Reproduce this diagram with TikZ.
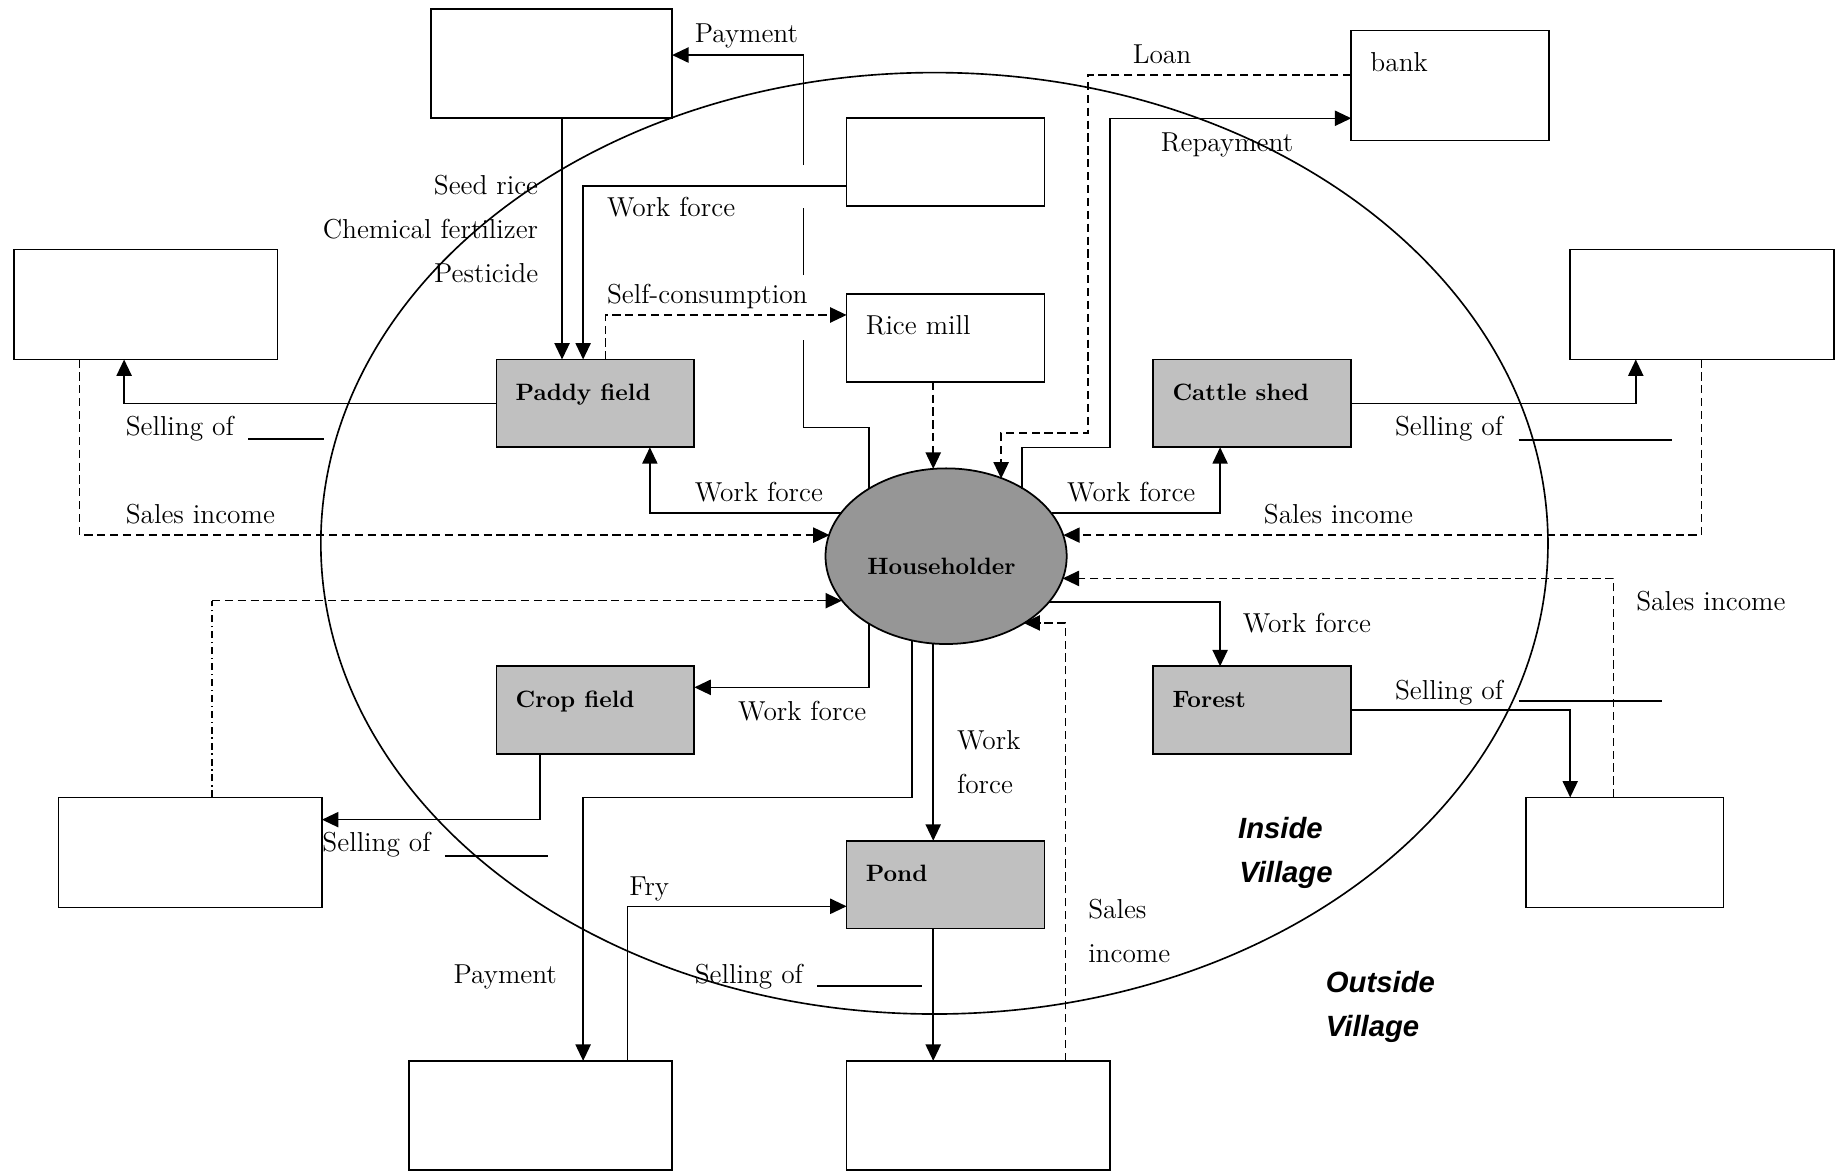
\documentclass[tikz,border=0pt]{standalone}
\usepackage{fontspec}
\newfontfamily\regionfont{Liberation Sans}
\usetikzlibrary{arrows.meta,shapes.geometric}
\definecolor{unitgray}{HTML}{C0C0C0}
\definecolor{hhgray}{HTML}{969696}

\begin{document}
\begin{tikzpicture}[x=0.5pt,y=-0.5pt,
  every node/.style={font=\fontsize{11.7}{13}\selectfont},
  box/.style={draw, line width=0.75pt, fill=white, inner sep=0pt, outer sep=0pt, anchor=north west},
  unitbox/.style={box, fill=unitgray},
  small/.style={minimum width=84.5pt, minimum height=37.5pt},
  wide/.style={minimum width=112.5pt, minimum height=47pt},
  title/.style={label={[anchor=base west, inner sep=0pt, xshift=8pt, yshift=-17.5pt]north west:#1}},
  btitle/.style={label={[anchor=base west, inner sep=0pt, xshift=8pt, yshift=-17.5pt,
      font=\fontsize{10.1}{12}\selectfont\bfseries]north west:#1}},
  flow/.style={line width=0.65pt},
  arr/.style={flow, -{Triangle[length=7pt,width=6.5pt]}},
  dline/.style={dash pattern=on 3.5pt off 2pt},
  dashdotline/.style={dash pattern=on 3pt off 1.6pt on 0.6pt off 1.6pt},
  txt/.style={anchor=base west, inner sep=0pt},
  txtr/.style={anchor=base east, inner sep=0pt},
  region/.style={anchor=base west, inner sep=0pt, font=\fontsize{12.5}{14}\selectfont\regionfont\bfseries\itshape},
  blank/.style={line width=0.8pt}
]
\useasboundingbox (0,0) rectangle (1568,1001);

% village boundary
\node[draw, ellipse, line width=0.7pt, inner sep=0pt, minimum width=524pt, minimum height=402pt] (village) at (798,464) {};

% outside partners and inside units
\node[box, minimum width=103pt, minimum height=46.5pt] (seedshop) at (368,8) {};
\node[box, small] (labour) at (723,101) {};
\node[box, small, title={Rice mill}] (mill) at (723,251) {};
\node[box, small, minimum height=47pt, title={bank}] (bank) at (1154,26) {};
\node[box, wide] (mktL) at (12,213) {};
\node[box, wide] (mktR) at (1341,213) {};
\node[box, wide] (mktCrop) at (50,681) {};
\node[box, small, minimum height=47pt] (mktForest) at (1303,681) {};
\node[box, wide, minimum height=46.5pt] (fryShop) at (349,906) {};
\node[box, wide, minimum height=46.5pt] (mktFish) at (723,906) {};

\node[unitbox, small, btitle={Paddy field}] (paddy) at (424,307) {};
\node[unitbox, small, btitle={Cattle shed}] (cattle) at (985,307) {};
\node[unitbox, small, btitle={Crop field}] (crop) at (424,569) {};
\node[unitbox, small, btitle={Forest}] (forest) at (985,569) {};
\node[unitbox, small, btitle={Pond}] (pond) at (723,718) {};

\node[draw, ellipse, fill=hhgray, line width=0.75pt, inner sep=0pt, outer sep=0pt,
  minimum width=103pt, minimum height=75pt,
  label={[anchor=base, inner sep=0pt, xshift=-2pt, yshift=-4.5pt, font=\fontsize{10.1}{12}\selectfont\bfseries]center:Householder}] (hh) at (808,475) {};

% inputs to the paddy field
\draw[arr] (seedshop.south -| 480,0) -- (paddy.north -| 480,0);
\draw[arr] (labour.west |- 0,159) -| (paddy.north -| 498,0);
\draw[arr] (hh.138.9 -| 742,0) |- (686,365) -- (686,290) (686,235) -- (686,178)
  (686,141) |- (seedshop.east |- 0,47);
\draw[arr, dline] (paddy.north -| 517,0) |- (mill.west |- 0,269);
\draw[arr, dline] (mill.south -| 797,0) -- (hh.98.4 -| 797,0);

% bank
\draw[arr, dline] (bank.west |- 0,64) -| (929,370) -| (hh.54.9 -| 855,0);
\draw[arr] (hh.41.8 -| 873,0) |- (948,382) -- (948,101) -- (bank.west |- 0,101);

% paddy field and cattle shed
\draw[arr] (paddy.west) -| (mktL.south -| 106,0);
\draw[arr, dline] (mktL.south -| 68,0) |- (hh.169.8 |- 0,457);
\draw[arr] (hh.157.6 |- 0,438) -| (paddy.south -| 555,0);
\draw[arr] (hh.22.4 |- 0,438) -| (cattle.south -| 1042,0);
\draw[arr] (cattle.east) -| (mktR.south -| 1397,0);
\draw[arr, dline] (mktR.south -| 1453,0) |- (hh.10.2 |- 0,457);

% forest
\draw[arr, dline] (mktForest.north -| 1378,0) |- (hh.349.2 |- 0,494);
\draw[arr] (hh.336.1 |- 0,514) -| (forest.north -| 1042,0);
\draw[arr] (forest.east) -| (mktForest.north -| 1341,0);

% crop field
\coordinate (cropcorner) at (181,513);
\draw[flow, dashdotline] (mktCrop.north -| 181,0) -- (cropcorner);
\draw[arr, dline] (cropcorner) -- (hh.203.1 |- 0,513);
\draw[arr] (hh.221.1 -| 742,0) |- (crop.east |- 0,587);
\draw[arr] (crop.south -| 461,0) |- (mktCrop.east |- 0,700);

% pond
\draw[arr] (hh.248.1 -| 779,0) |- (498,681) -- (fryShop.north -| 498,0);
\draw[arr] (fryShop.north -| 536,0) |- (pond.west |- 0,774);
\draw[arr] (hh.261.6 -| 797,0) -- (pond.north -| 797,0);
\draw[arr] (pond.south -| 797,0) -- (mktFish.north -| 797,0);
\draw[arr, dline] (mktFish.north -| 910,0) |- (hh.319.6 |- 0,532);

% flow labels
\node[txt] (tPay1) at (593,36) {Payment};
\node[txtr] (tSeed) at (460,166) {Seed rice};
\node[txtr] (tFert) at (460,204) {Chemical fertilizer};
\node[txtr] (tPest) at (460,241) {Pesticide};
\node[txt] (tWf1) at (518,185) {Work force};
\node[txt] (tSelf) at (518,259) {Self-consumption};
\node[txt] (tLoan) at (967,54) {Loan};
\node[txt] (tRepay) at (991,129) {Repayment};
\node[txt] (tSellL) at (107,372) {Selling of};
\draw[blank] (212,375) -- (277,375);
\node[txt] (tIncL) at (107,447) {Sales income};
\node[txt] (tWf2) at (593,428) {Work force};
\node[txt] (tWf3) at (911,428) {Work force};
\node[txt] (tSellR) at (1191,372) {Selling of};
\draw[blank] (1297,376) -- (1428,376);
\node[txt] (tIncR) at (1079,447) {Sales income};
\node[txt] (tIncF) at (1397,521) {Sales income};
\node[txt] (tWf4) at (1061,540) {Work force};
\node[txt] (tSellF) at (1191,597) {Selling of};
\draw[blank] (1297,599) -- (1419,599);
\node[txt] (tWf5) at (630,615) {Work force};
\node[txt] (tSellC) at (275,727) {Selling of};
\draw[blank] (380,731) -- (468,731);
\node[txt] (tWf6a) at (817,640) {Work};
\node[txt] (tWf6b) at (817,678) {force};
\node[txt] (tFry) at (537,765) {Fry};
\node[txt] (tPay2) at (387,840) {Payment};
\node[txt] (tSellP) at (593,840) {Selling of};
\draw[blank] (698,842) -- (787,842);
\node[txt] (tIncPa) at (929,784) {Sales};
\node[txt] (tIncPb) at (929,822) {income};

% regions
\node[region] (rIn1) at (1057,716) {Inside};
\node[region] (rIn2) at (1058,754) {Village};
\node[region] (rOut1) at (1132,848) {Outside};
\node[region] (rOut2) at (1132,885) {Village};
\end{tikzpicture}
\end{document}
